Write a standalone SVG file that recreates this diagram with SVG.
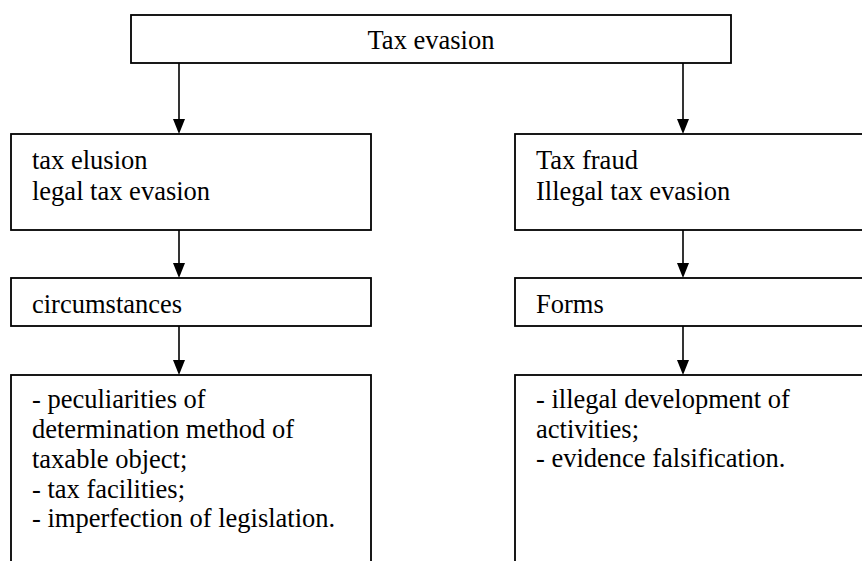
<svg xmlns="http://www.w3.org/2000/svg" width="862" height="561" viewBox="0 0 862 561">
<style>
.box{fill:#fff;stroke:#000;stroke-width:1.8}
.t{font-family:"Liberation Serif","Times New Roman",serif;font-size:26.5px;fill:#000}
.c{stroke:#000;stroke-width:1.6;fill:none}
</style>
<defs>
<marker id="ah" markerUnits="userSpaceOnUse" markerWidth="12" markerHeight="15" viewBox="0 0 12 15" refX="6" refY="15" orient="auto-start-reverse">
<polygon points="0,0 12,0 6,15" fill="#000" transform="rotate(0)"/>
</marker>
</defs>
<rect width="862" height="561" fill="#fff"/>
<g id="connectors">
<line class="c" x1="179" y1="63" x2="179" y2="120"/>
<polygon points="173,119 185,119 179,134" fill="#000"/>
<line class="c" x1="683" y1="63" x2="683" y2="120"/>
<polygon points="677,119 689,119 683,134" fill="#000"/>
<line class="c" x1="179" y1="230" x2="179" y2="264"/>
<polygon points="173,263 185,263 179,278" fill="#000"/>
<line class="c" x1="683" y1="230" x2="683" y2="264"/>
<polygon points="677,263 689,263 683,278" fill="#000"/>
<line class="c" x1="179" y1="326" x2="179" y2="361"/>
<polygon points="173,360 185,360 179,375" fill="#000"/>
<line class="c" x1="683" y1="326" x2="683" y2="361"/>
<polygon points="677,360 689,360 683,375" fill="#000"/>
</g>
<g id="n-tax-evasion">
<rect class="box" x="131" y="15" width="600" height="48"/>
<text class="t" x="431" y="49" text-anchor="middle">Tax evasion</text>
</g>
<g id="n-elusion">
<rect class="box" x="11" y="134" width="360" height="96"/>
<text class="t" x="32" y="169">tax elusion</text>
<text class="t" x="32" y="200">legal tax evasion</text>
</g>
<g id="n-fraud">
<rect class="box" x="515" y="134" width="400" height="96"/>
<text class="t" x="536" y="169">Tax fraud</text>
<text class="t" x="536" y="200">Illegal tax evasion</text>
</g>
<g id="n-circumstances">
<rect class="box" x="11" y="278" width="360" height="48"/>
<text class="t" x="32" y="313">circumstances</text>
</g>
<g id="n-forms">
<rect class="box" x="515" y="278" width="400" height="48"/>
<text class="t" x="536" y="313">Forms</text>
</g>
<g id="n-circ-list">
<rect class="box" x="11" y="375" width="360" height="220"/>
<text class="t" x="32" y="408">- peculiarities of</text>
<text class="t" x="32" y="438">determination method of</text>
<text class="t" x="32" y="468">taxable object;</text>
<text class="t" x="32" y="498">- tax facilities;</text>
<text class="t" x="32" y="527">- imperfection of legislation.</text>
</g>
<g id="n-forms-list">
<rect class="box" x="515" y="375" width="400" height="220"/>
<text class="t" x="536" y="408">- illegal development of</text>
<text class="t" x="536" y="438">activities;</text>
<text class="t" x="536" y="467">- evidence falsification.</text>
</g>
</svg>
